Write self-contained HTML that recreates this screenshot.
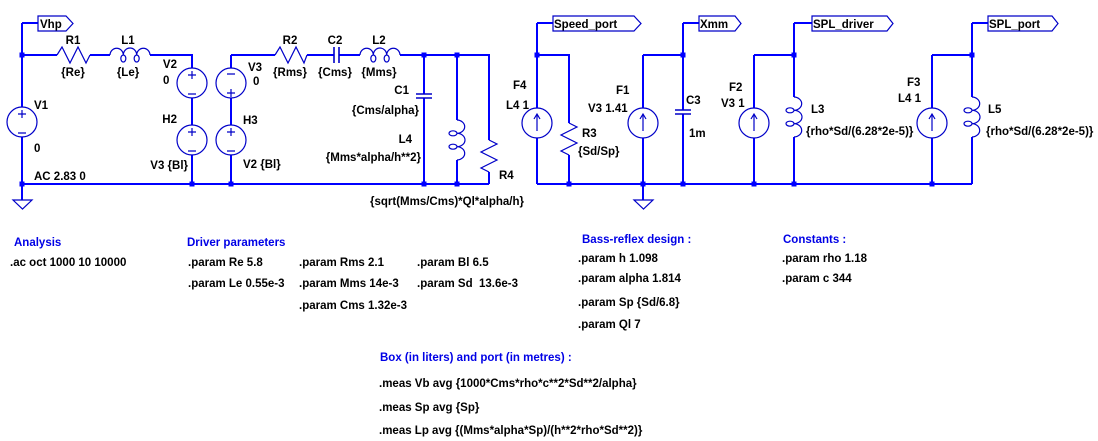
<!DOCTYPE html>
<html>
<head>
<meta charset="utf-8">
<style>
html,body{margin:0;padding:0;background:#fff;}
svg{display:block;}
text{font-family:"Liberation Sans",Arial,sans-serif;font-weight:bold;font-size:11.5px;fill:#000;white-space:pre;}
.c{fill:#0000e6;}
.w{stroke:#0000ff;stroke-width:2;fill:none;shape-rendering:crispEdges;}
.k{stroke:#0000c8;stroke-width:1.2;fill:none;}
.j{fill:#0000ff;}
</style>
</head>
<body>
<svg width="1098" height="441" viewBox="0 0 1098 441" xmlns="http://www.w3.org/2000/svg">
<rect width="1098" height="441" fill="#fff"/>

<!-- ============ WIRES LEFT ============ -->
<g class="w">
<path d="M22,23 H38"/>
<path d="M22,23 V107"/>
<path d="M22,137 V200"/>
<path d="M22,55 H57"/>
<path d="M90,55 H110"/>
<path d="M150,55 H192 V68"/>
<path d="M192,98 V125"/>
<path d="M192,155 V184"/>
<path d="M231,55 V68"/>
<path d="M231,98 V125"/>
<path d="M231,155 V184"/>
<path d="M231,55 H275"/>
<path d="M307,55 H334"/>
<path d="M339,55 H360"/>
<path d="M400,55 H489 V140"/>
<path d="M489,172 V184"/>
<path d="M424,55 V94"/>
<path d="M424,98 V184"/>
<path d="M457,55 V120"/>
<path d="M457,160 V184"/>
<path d="M22,184 H489"/>
</g>

<!-- ============ WIRES RIGHT ============ -->
<g class="w">
<path d="M537,23 H553"/>
<path d="M537,23 V108"/>
<path d="M537,138 V184"/>
<path d="M537,55 H569 V123"/>
<path d="M569,155 V184"/>
<path d="M643,55 H683"/>
<path d="M643,55 V108"/>
<path d="M643,138 V200"/>
<path d="M683,23 H699"/>
<path d="M683,23 V110"/>
<path d="M683,114 V184"/>
<path d="M754,55 H794"/>
<path d="M754,55 V108"/>
<path d="M754,138 V184"/>
<path d="M794,23 H812"/>
<path d="M794,23 V97"/>
<path d="M794,137 V184"/>
<path d="M932,55 H972"/>
<path d="M932,55 V108"/>
<path d="M932,138 V184"/>
<path d="M972,23 H988"/>
<path d="M972,23 V97"/>
<path d="M972,137 V184"/>
<path d="M537,184 H972"/>
</g>

<!-- ============ JUNCTIONS ============ -->
<g class="j">
<rect x="19.5" y="52.5" width="5" height="5"/>
<rect x="19.5" y="181.5" width="5" height="5"/>
<rect x="189.5" y="181.5" width="5" height="5"/>
<rect x="228.5" y="181.5" width="5" height="5"/>
<rect x="421.5" y="52.5" width="5" height="5"/>
<rect x="454.5" y="52.5" width="5" height="5"/>
<rect x="421.5" y="181.5" width="5" height="5"/>
<rect x="454.5" y="181.5" width="5" height="5"/>
<rect x="534.5" y="52.5" width="5" height="5"/>
<rect x="566.5" y="181.5" width="5" height="5"/>
<rect x="640.5" y="181.5" width="5" height="5"/>
<rect x="680.5" y="52.5" width="5" height="5"/>
<rect x="680.5" y="181.5" width="5" height="5"/>
<rect x="751.5" y="181.5" width="5" height="5"/>
<rect x="791.5" y="52.5" width="5" height="5"/>
<rect x="791.5" y="181.5" width="5" height="5"/>
<rect x="929.5" y="181.5" width="5" height="5"/>
<rect x="969.5" y="52.5" width="5" height="5"/>
</g>

<!-- ============ COMPONENTS ============ -->
<g class="k">
<!-- grounds -->
<path d="M13,200 H32 L22.5,209 Z"/>
<path d="M634,200 H653 L643.5,209 Z"/>

<!-- net labels -->
<path d="M38,16 H66 L73,23.5 L66,31 H38 Z"/>
<path d="M553,16 H634 L641,23.5 L634,31 H553 Z"/>
<path d="M699,16 H735 L741,23.5 L735,31 H699 Z"/>
<path d="M812,16 H887 L893,23.5 L887,31 H812 Z"/>
<path d="M988,16 H1052 L1058,23.5 L1052,31 H988 Z"/>

<!-- resistors -->
<polyline points="57,55 62,47 70,63 78,47 86,63 90,55"/>
<polyline points="275,55 280,47 288,63 296,47 304,63 307,55"/>
<polyline points="489,140 497,144 481,152 497,160 481,168 489,172"/>
<polyline points="569,123 577,127 561,135 577,143 561,151 569,155"/>

<!-- inductors horizontal -->
<path d="M110,55 A6.67,7 0 0 1 123.33,55 A6.67,7 0 0 1 136.67,55 A6.67,7 0 0 1 150,55"/>
<ellipse cx="123.33" cy="58.5" rx="2.5" ry="3.5"/>
<ellipse cx="136.67" cy="58.5" rx="2.5" ry="3.5"/>
<path d="M360,55 A6.67,7 0 0 1 373.33,55 A6.67,7 0 0 1 386.67,55 A6.67,7 0 0 1 400,55"/>
<ellipse cx="373.33" cy="58.5" rx="2.5" ry="3.5"/>
<ellipse cx="386.67" cy="58.5" rx="2.5" ry="3.5"/>

<!-- inductors vertical -->
<path d="M457,120 A8,6.67 0 0 1 457,133.33 A8,6.67 0 0 1 457,146.67 A8,6.67 0 0 1 457,160"/>
<ellipse cx="453" cy="133.33" rx="4" ry="2.5"/>
<ellipse cx="453" cy="146.67" rx="4" ry="2.5"/>
<path d="M794,97 A8,6.67 0 0 1 794,110.33 A8,6.67 0 0 1 794,123.67 A8,6.67 0 0 1 794,137"/>
<ellipse cx="790" cy="110.33" rx="4" ry="2.5"/>
<ellipse cx="790" cy="123.67" rx="4" ry="2.5"/>
<path d="M972,97 A8,6.67 0 0 1 972,110.33 A8,6.67 0 0 1 972,123.67 A8,6.67 0 0 1 972,137"/>
<ellipse cx="968" cy="110.33" rx="4" ry="2.5"/>
<ellipse cx="968" cy="123.67" rx="4" ry="2.5"/>

<!-- voltage sources -->
<circle cx="22" cy="122" r="15"/>
<path d="M18,114 H26 M22,110 V118 M18,133 H26"/>
<circle cx="192" cy="83" r="15"/>
<path d="M188,75 H196 M192,71 V79 M188,94 H196"/>
<circle cx="192" cy="140" r="15"/>
<path d="M188,132 H196 M192,128 V136 M188,151 H196"/>
<circle cx="231" cy="83" r="15"/>
<path d="M227,74 H235 M227,93 H235 M231,89 V97"/>
<circle cx="231" cy="140" r="15"/>
<path d="M227,132 H235 M231,128 V136 M227,151 H235"/>

<!-- current sources -->
<circle cx="537" cy="123" r="15"/>
<path d="M537,131 V114 M534,119 L537,114 L540,119"/>
<circle cx="643" cy="123" r="15"/>
<path d="M643,131 V114 M640,119 L643,114 L646,119"/>
<circle cx="754" cy="123" r="15"/>
<path d="M754,131 V114 M751,119 L754,114 L757,119"/>
<circle cx="932" cy="123" r="15"/>
<path d="M932,131 V114 M929,119 L932,114 L935,119"/>
</g>

<!-- capacitors -->
<g stroke="#0000c8" stroke-width="1.6" fill="none">
<path d="M334,47 V63 M339,47 V63"/>
<path d="M416,94 H432 M416,98 H432"/>
<path d="M675,110 H691 M675,114 H691"/>
</g>

<!-- ============ SCHEMATIC TEXT ============ -->
<text x="40" y="28">Vhp</text>
<text x="554" y="28">Speed_port</text>
<text x="700" y="28">Xmm</text>
<text x="813" y="28">SPL_driver</text>
<text x="989" y="28">SPL_port</text>

<text x="73" y="44" text-anchor="middle">R1</text>
<text x="73" y="76" text-anchor="middle">{Re}</text>
<text x="128" y="44" text-anchor="middle">L1</text>
<text x="128" y="76" text-anchor="middle">{Le}</text>

<text x="34" y="109">V1</text>
<text x="34" y="152">0</text>
<text x="34" y="180">AC 2.83 0</text>

<text x="177" y="68" text-anchor="end">V2</text>
<text x="163" y="84">0</text>
<text x="177" y="123" text-anchor="end">H2</text>
<text x="188" y="169" text-anchor="end">V3 {Bl}</text>

<text x="248" y="71">V3</text>
<text x="253" y="85">0</text>
<text x="243" y="124">H3</text>
<text x="243" y="168">V2 {Bl}</text>

<text x="290" y="44" text-anchor="middle">R2</text>
<text x="290" y="76" text-anchor="middle">{Rms}</text>
<text x="335" y="44" text-anchor="middle">C2</text>
<text x="335" y="76" text-anchor="middle">{Cms}</text>
<text x="379" y="44" text-anchor="middle">L2</text>
<text x="379" y="76" text-anchor="middle">{Mms}</text>

<text x="409" y="94" text-anchor="end">C1</text>
<text x="419" y="114" text-anchor="end">{Cms/alpha}</text>
<text x="412" y="143" text-anchor="end">L4</text>
<text x="421" y="161" text-anchor="end">{Mms*alpha/h**2}</text>
<text x="499" y="179">R4</text>
<text x="370" y="205">{sqrt(Mms/Cms)*Ql*alpha/h}</text>

<text x="513" y="89">F4</text>
<text x="506" y="109">L4 1</text>
<text x="582" y="137">R3</text>
<text x="578" y="155">{Sd/Sp}</text>
<text x="616" y="94">F1</text>
<text x="588" y="112">V3 1.41</text>
<text x="686" y="104">C3</text>
<text x="689" y="137">1m</text>
<text x="729" y="91">F2</text>
<text x="721" y="107">V3 1</text>
<text x="811" y="113">L3</text>
<text x="806" y="135">{rho*Sd/(6.28*2e-5)}</text>
<text x="907" y="86">F3</text>
<text x="898" y="102">L4 1</text>
<text x="988" y="113">L5</text>
<text x="986" y="135">{rho*Sd/(6.28*2e-5)}</text>

<!-- ============ DIRECTIVES ============ -->
<text class="c" x="14" y="246">Analysis</text>
<text x="10" y="266">.ac oct 1000 10 10000</text>

<text class="c" x="187" y="246">Driver parameters</text>
<text x="188" y="266">.param Re 5.8</text>
<text x="188" y="287">.param Le 0.55e-3</text>
<text x="299" y="266">.param Rms 2.1</text>
<text x="299" y="287">.param Mms 14e-3</text>
<text x="299" y="309">.param Cms 1.32e-3</text>
<text x="417" y="266">.param Bl 6.5</text>
<text x="417" y="287">.param Sd  13.6e-3</text>

<text class="c" x="582" y="243">Bass-reflex design :</text>
<text x="578" y="262">.param h 1.098</text>
<text x="578" y="282">.param alpha 1.814</text>
<text x="578" y="306">.param Sp {Sd/6.8}</text>
<text x="578" y="328">.param Ql 7</text>

<text class="c" x="783" y="243">Constants :</text>
<text x="782" y="262">.param rho 1.18</text>
<text x="782" y="282">.param c 344</text>

<text class="c" x="380" y="361">Box (in liters) and port (in metres) :</text>
<text x="379" y="387">.meas Vb avg {1000*Cms*rho*c**2*Sd**2/alpha}</text>
<text x="379" y="411">.meas Sp avg {Sp}</text>
<text x="379" y="434">.meas Lp avg {(Mms*alpha*Sp)/(h**2*rho*Sd**2)}</text>
</svg>
</body>
</html>
